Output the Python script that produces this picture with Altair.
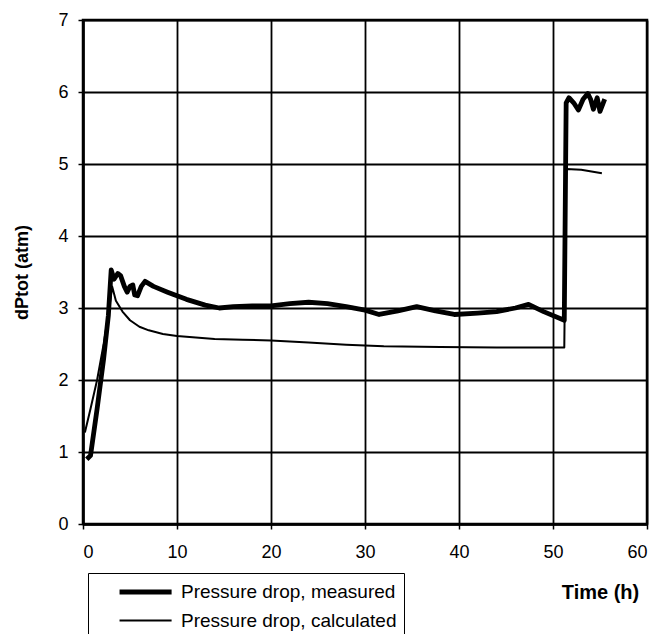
import altair as alt
import pandas as pd

# Measured pressure drop over the run
meas_t = [0.4, 0.8, 1.5, 2.2, 2.7, 3.0, 3.3, 3.7, 4.0, 4.4, 4.7, 5.0, 5.3, 5.5, 5.8, 6.2, 6.6,
          7.5, 9, 11, 13, 14.5, 16, 18, 20, 22, 24, 26, 28, 30, 31.5, 33.5, 35.5, 37.5, 39.5,
          42, 44, 46, 47.4, 49, 51.2, 51.4, 51.7, 52.2, 52.7, 53.2, 53.7, 54.0, 54.3, 54.7, 55.0, 55.5]
meas_p = [0.9, 0.95, 1.6, 2.3, 2.9, 3.53, 3.4, 3.48, 3.45, 3.3, 3.22, 3.3, 3.32, 3.18, 3.17, 3.3, 3.37,
          3.3, 3.22, 3.12, 3.04, 3.0, 3.02, 3.03, 3.03, 3.06, 3.08, 3.06, 3.02, 2.97, 2.91, 2.96, 3.02, 2.96, 2.91,
          2.93, 2.95, 3.0, 3.05, 2.95, 2.83, 5.85, 5.92, 5.85, 5.75, 5.9, 5.98, 5.9, 5.76, 5.92, 5.73, 5.9]

# Calculated pressure drop
calc_t = [0.2, 0.8, 1.5, 2.2, 2.8, 3.1, 3.5, 4.2, 5, 6, 7, 8.5, 10, 12, 14, 17, 20, 24, 28, 32, 38,
          44, 51.2, 51.4, 53, 55.2]
calc_p = [1.27, 1.6, 2.0, 2.5, 3.0, 3.3, 3.1, 2.95, 2.83, 2.74, 2.69, 2.64, 2.61, 2.59, 2.57, 2.56,
          2.55, 2.52, 2.49, 2.47, 2.46, 2.45, 2.45, 4.93, 4.92, 4.87]

series = ["Pressure drop, measured", "Pressure drop, calculated"]

df = pd.concat([
    pd.DataFrame({"t": meas_t, "p": meas_p, "series": series[0], "order": range(len(meas_t))}),
    pd.DataFrame({"t": calc_t, "p": calc_p, "series": series[1], "order": range(len(calc_t))}),
])

FONT = "Liberation Sans"

# Shared legend settings: a long horizontal stroke sample inside a boxed legend
legend_opts = dict(
    title=None, orient="none", legendX=5, legendY=553,
    symbolType="M1.32,0H6.8", symbolSize=361, symbolFillColor="transparent",
    strokeColor="black", padding=7, rowPadding=8, labelOffset=62,
    labelFontSize=19, labelFont=FONT, labelColor="black", labelLimit=500,
    labelExpr="datum.label + '    '",
)

chart = alt.Chart(df).mark_line(strokeJoin="round").encode(
    x=alt.X("t:Q", scale=alt.Scale(domain=[0, 60], nice=False),
            axis=alt.Axis(values=list(range(0, 61, 10)), title="Time (h)", labelPadding=14,
                          titleX=517, titleY=74, titleAlign="center", titleAnchor="start",
                          titleBaseline="alphabetic", titleFontSize=20)),
    y=alt.Y("p:Q", scale=alt.Scale(domain=[0, 7], nice=False),
            axis=alt.Axis(values=list(range(0, 8)), title="dPtot (atm)", labelPadding=10,
                          titleX=-61, titleY=252, titleAlign="center", titleAnchor="start",
                          titleBaseline="middle", titleFontSize=18)),
    color=alt.Color("series:N", scale=alt.Scale(domain=series, range=["black", "black"]),
                    legend=alt.Legend(**legend_opts)),
    strokeWidth=alt.StrokeWidth("series:N", scale=alt.Scale(domain=series, range=[4.8, 2]),
                                legend=alt.Legend(**legend_opts)),
    detail="series:N",
    order="order:Q",
).properties(
    width=564, height=504,
    autosize="none",
    padding={"left": 83, "top": 20, "right": 22, "bottom": 110},
).configure_axis(
    grid=True, gridColor="black", gridWidth=1.8, gridOpacity=1,
    domainColor="black", domainWidth=2.5,
    tickColor="black", tickSize=5, tickWidth=1.5,
    labelFont=FONT, labelFontSize=18, labelColor="black",
    titleFont=FONT, titleFontWeight="bold", titleColor="black",
).configure_view(stroke="black", strokeWidth=2.5)

chart.save("out.html", embed_options={"renderer": "svg", "actions": False})
